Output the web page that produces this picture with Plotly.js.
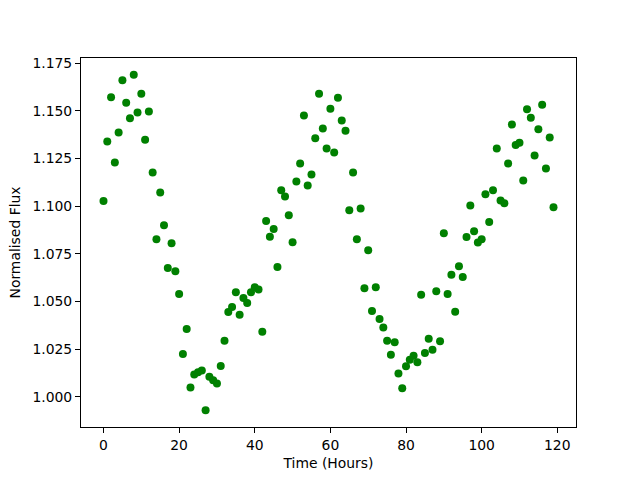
<!DOCTYPE html>
<html>
<head>
<meta charset="utf-8">
<script src="https://cdn.plot.ly/plotly-3.0.1.min.js"></script>
<style>html,body{margin:0;padding:0;background:#fff;}#chart{width:640px;height:480px;}</style>
</head>
<body>
<div id="chart"></div>
<script>
var timeHours = [0,1,2,3,4,5,6,7,8,9,10,11,12,13,14,15,16,17,18,19,20,21,22,23,24,25,26,27,28,29,
30,31,32,33,34,35,36,37,38,39,40,41,42,43,44,45,46,47,48,49,50,51,52,53,54,55,56,57,58,59,
60,61,62,63,64,65,66,67,68,69,70,71,72,73,74,75,76,77,78,79,80,81,82,83,84,85,86,87,88,89,
90,91,92,93,94,95,96,97,98,99,100,101,102,103,104,105,106,107,108,109,110,111,112,113,114,115,116,117,118,119];

var normalisedFlux = [
1.1027,1.1339,1.1571,1.1229,1.1386,1.1660,1.1543,1.1461,1.1689,1.1491,
1.1590,1.1349,1.1496,1.1177,1.0826,1.1072,1.0900,1.0676,1.0805,1.0659,
1.0539,1.0225,1.0356,1.0049,1.0117,1.0129,1.0138,0.9930,1.0105,1.0087,
1.0070,1.0162,1.0294,1.0445,1.0471,1.0549,1.0430,1.0518,1.0492,1.0549,
1.0575,1.0563,1.0342,1.0922,1.0840,1.0880,1.0681,1.1084,1.1051,1.0952,
1.0811,1.1130,1.1224,1.1475,1.1109,1.1166,1.1356,1.1590,1.1407,1.1302,
1.1511,1.1281,1.1569,1.1449,1.1396,1.0978,1.1177,1.0826,1.0988,1.0570,
1.0769,1.0450,1.0575,1.0408,1.0364,1.0294,1.0221,1.0286,1.0123,1.0045,
1.0160,1.0195,1.0216,1.0181,1.0535,1.0230,1.0305,1.0247,1.0554,1.0292,
1.0858,1.0539,1.0640,1.0446,1.0685,1.0628,1.0838,1.1004,1.0868,1.0809,
1.0826,1.1062,1.0917,1.1083,1.1302,1.1030,1.1015,1.1224,1.1428,1.1321,
1.1332,1.1135,1.1508,1.1464,1.1266,1.1403,1.1532,1.1198,1.1360,1.0994];

var xTicks = [0,20,40,60,80,100,120];
var yTicks = [1.000,1.025,1.050,1.075,1.100,1.125,1.150,1.175];

var trace = {
  x: timeHours,
  y: normalisedFlux,
  type: 'scatter',
  mode: 'markers',
  marker: {color: '#008000', size: 8, line: {width: 0}},
  hoverinfo: 'x+y'
};

var axisCommon = {
  showline: true, linecolor: '#000', linewidth: 1, mirror: true,
  ticks: 'outside', ticklen: 5, tickwidth: 1, tickcolor: '#000',
  showgrid: false, zeroline: false,
  tickfont: {family: 'DejaVu Sans', size: 13.9, color: '#000'}
};

var layout = {
  width: 640, height: 480,
  margin: {l: 81, r: 64, t: 58, b: 53, pad: 0},
  paper_bgcolor: '#fff', plot_bgcolor: '#fff',
  font: {family: 'DejaVu Sans', size: 13.9, color: '#000'},
  showlegend: false,
  xaxis: Object.assign({}, axisCommon, {
    range: [-5.95, 124.95], tickmode: 'array', tickvals: xTicks,
    ticktext: xTicks.map(String),
    title: {text: 'Time (Hours)', font: {family: 'DejaVu Sans', size: 13.9, color: '#000'}, standoff: 6}
  }),
  yaxis: Object.assign({}, axisCommon, {
    range: [0.98419, 1.17771], tickmode: 'array', tickvals: yTicks,
    ticktext: yTicks.map(function(v){return v.toFixed(3);}),
    title: {text: 'Normalised Flux', font: {family: 'DejaVu Sans', size: 13.9, color: '#000'}, standoff: 8}
  })
};

Plotly.newPlot('chart', [trace], layout, {displayModeBar: false, staticPlot: true});
</script>
</body>
</html>
